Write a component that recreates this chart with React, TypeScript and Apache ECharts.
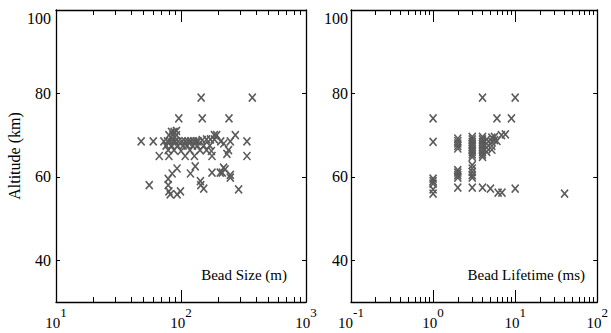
import React, { useEffect, useRef } from "react";
import * as echarts from "echarts";

// Left panel: bead size (m) vs altitude (km)
const beadSize: number[] = [
  145, 372,
  96, 148, 242,
  84, 88, 92,
  80, 86, 92, 185, 193, 272,
  48, 60, 73, 78, 82, 86, 90, 95, 102, 108, 114, 120, 126, 132, 137, 148, 160, 172, 185, 208, 220, 248, 337,
  76, 84, 94, 104, 112, 124, 135, 152, 170,
  79, 88, 100, 118, 142, 160, 175, 240,
  67, 80, 108, 128, 177, 233, 337,
  93, 130, 219, 225,
  85, 119, 177, 206, 214, 248,
  79, 143, 248,
  55.7, 79, 144,
  152, 289,
  80, 99,
  82, 93,
];
const sizeAltitude: number[] = [
  79, 79,
  74, 74, 74,
  70.8, 70.8, 71,
  70, 70, 70, 70, 70, 70,
  68.5, 68.5, 68.5, 68.5, 68.5, 68.5, 68.5, 68.5, 68.5, 68.5, 68.5, 68.5, 68.5, 68.5, 68.5, 68.8, 69, 69, 69, 68.5, 68, 68.5, 68.5,
  67.5, 67.5, 67.5, 67.5, 67.5, 67.5, 67.5, 67.5, 67.5,
  66.4, 66.4, 66.2, 66.4, 66.4, 66.4, 66.2, 66.4,
  65, 65, 65, 65, 65, 65.5, 65,
  62, 62.5, 62.2, 61.8,
  60.8, 60.8, 61, 61, 61, 60.5,
  59.5, 59, 59.8,
  58, 58, 58,
  57.2, 57,
  56.5, 56.5,
  55.8, 55.8,
];

// Right panel: bead lifetime (ms) vs altitude (km)
const beadLifetime: number[] = [
  1, 1, 1, 1, 1, 1, 1,
  2, 2, 2, 2, 2, 2, 2, 2, 2, 2,
  3, 3, 3, 3, 3, 3, 3, 3, 3, 3, 3, 3, 3, 3, 3,
  4, 4, 4, 4, 4, 4, 4, 4, 4, 4, 4,
  4.5, 4.5, 4.5, 4.5,
  5.2, 5.2, 5.2, 5.2, 5,
  5.6, 5.6,
  6, 6,
  6.2, 6.9,
  6.8, 7.6,
  9, 10, 10, 40,
];
const lifetimeAltitude: number[] = [
  74, 68.4, 59.6, 59, 58.4, 57, 56,
  69.2, 68.6, 68, 67.4, 66.8, 61.6, 61, 60.4, 59.8, 57.4,
  69.6, 69, 68.4, 67.8, 67.2, 66.6, 66, 65.4, 64.8, 62.8, 62, 61.2, 60.4, 59.8, 57.4,
  79, 69.6, 69, 68.4, 67.8, 67.2, 66.6, 66, 65.4, 64.8, 57.4,
  69, 68, 67, 66,
  69.4, 68.4, 67.4, 66.5, 57.2,
  69.6, 68.8,
  74, 68.6,
  56.2, 56.2,
  70, 70.2,
  74, 79, 57.2, 56,
];

const yTicks: number[] = [40, 60, 80, 100];
const sizeMajorTicks: number[] = [10, 100, 1000];
const sizeMinorTicks: number[] = [20, 30, 40, 50, 60, 70, 80, 90, 200, 300, 400, 500, 600, 700, 800, 900];
const lifeMajorTicks: number[] = [0.1, 1, 10, 100];
const lifeMinorTicks: number[] = [
  0.2, 0.3, 0.4, 0.5, 0.6, 0.7, 0.8, 0.9,
  2, 3, 4, 5, 6, 7, 8, 9,
  20, 30, 40, 50, 60, 70, 80, 90,
];

const FONT = "Liberation Serif";
const LINE = { show: true, lineStyle: { color: "#000", width: 1.3 } };
const XSYMBOL = "path://M0,0L10,10M0,10L10,0";

function xAxes(gridIndex: number, min: number, max: number, major: number[], minor: number[]) {
  const base = { type: "log", logBase: 10, gridIndex, min, max, splitLine: { show: false } };
  const fmt = (v: number) => `{b|10}{sup|${Math.round(Math.log10(v))}}`;
  return [
    {
      ...base,
      position: "bottom",
      axisLine: LINE,
      axisTick: { show: true, inside: true, length: 12, customValues: major, lineStyle: { color: "#000", width: 1 } },
      axisLabel: {
        show: true,
        customValues: major,
        margin: 4,
        formatter: fmt,
        color: "#000",
        fontFamily: FONT,
        rich: {
          b: { fontSize: 15, lineHeight: 24, fontFamily: FONT, color: "#000", verticalAlign: "bottom" },
          sup: { fontSize: 13, lineHeight: 13, fontFamily: FONT, color: "#000", verticalAlign: "top" },
        },
      },
    },
    {
      ...base,
      position: "bottom",
      axisLine: { show: false },
      axisTick: { show: true, inside: true, length: 5, customValues: minor, lineStyle: { color: "#000", width: 1 } },
      axisLabel: { show: false },
    },
    {
      ...base,
      position: "top",
      axisLine: LINE,
      axisTick: { show: true, inside: true, length: 12, customValues: major, lineStyle: { color: "#000", width: 1 } },
      axisLabel: { show: false },
    },
    {
      ...base,
      position: "top",
      axisLine: { show: false },
      axisTick: { show: true, inside: true, length: 5, customValues: minor, lineStyle: { color: "#000", width: 1 } },
      axisLabel: { show: false },
    },
  ];
}

function yAxes(gridIndex: number, withName: boolean, margin: number) {
  const base = { type: "value", gridIndex, min: 30, max: 100, splitLine: { show: false } };
  return [
    {
      ...base,
      position: "left",
      axisLine: LINE,
      axisTick: { show: true, inside: true, length: 4, customValues: yTicks, lineStyle: { color: "#000", width: 1 } },
      axisLabel: {
        show: true,
        customValues: yTicks,
        margin,
        color: "#000",
        fontSize: 16,
        fontFamily: FONT,
        verticalAlignMaxLabel: "top",
      },
      ...(withName
        ? {
            name: "Altitude (km)",
            nameLocation: "middle",
            nameGap: 34,
            nameRotate: 90,
            nameTextStyle: { color: "#000", fontSize: 16, fontFamily: FONT },
          }
        : {}),
    },
    {
      ...base,
      position: "right",
      axisLine: LINE,
      axisTick: { show: true, inside: true, length: 4, customValues: yTicks, lineStyle: { color: "#000", width: 1 } },
      axisLabel: { show: false },
    },
  ];
}

export default function App() {
  const ref = useRef<HTMLDivElement>(null);
  useEffect(() => {
    if (!ref.current) return;
    const chart = echarts.init(ref.current, null, { renderer: "svg" });
    const leftData = beadSize.map((v, i) => [v, sizeAltitude[i]]);
    const rightData = beadLifetime.map((v, i) => [v, lifetimeAltitude[i]]);
    const scatterStyle = {
      type: "scatter",
      symbol: XSYMBOL,
      symbolSize: [7, 8],
      itemStyle: { color: "transparent", borderColor: "#5a5a5a", borderWidth: 1.6, opacity: 1 },
      emphasis: { disabled: true },
    };
    chart.setOption({
      animation: false,
      textStyle: { fontFamily: FONT },
      grid: [
        { left: 56, top: 10, width: 250, height: 292 },
        { left: 351, top: 10, width: 249, height: 292 },
      ],
      xAxis: [
        ...xAxes(0, 10, 1000, sizeMajorTicks, sizeMinorTicks),
        ...xAxes(1, 0.1, 100, lifeMajorTicks, lifeMinorTicks),
      ],
      yAxis: [...yAxes(0, true, 5), ...yAxes(1, false, 3)],
      series: [
        { ...scatterStyle, name: "Bead Size", xAxisIndex: 0, yAxisIndex: 0, data: leftData },
        { ...scatterStyle, name: "Bead Lifetime", xAxisIndex: 4, yAxisIndex: 2, data: rightData },
      ],
      graphic: [
        {
          type: "text",
          x: 287,
          y: 275,
          style: { text: "Bead Size (m)", fontSize: 15, fontFamily: FONT, fill: "#000", align: "right", verticalAlign: "middle" },
        },
        {
          type: "text",
          x: 585,
          y: 275,
          style: { text: "Bead Lifetime (ms)", fontSize: 15, fontFamily: FONT, fill: "#000", align: "right", verticalAlign: "middle" },
        },
      ],
    });
    return () => chart.dispose();
  }, []);
  return (
    <div
      ref={ref}
      style={{ position: "absolute", left: 0, top: 0, width: 611, height: 333, background: "#fff" }}
    />
  );
}
